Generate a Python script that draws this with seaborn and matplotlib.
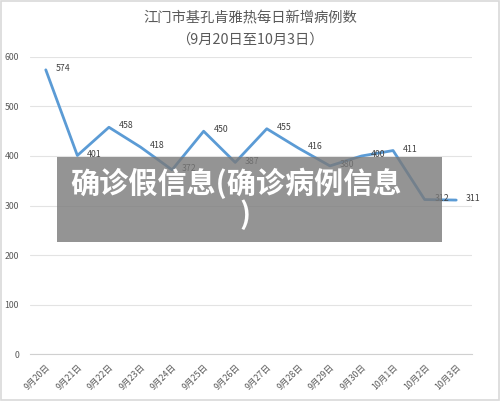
import seaborn as sns
import matplotlib.pyplot as plt
from matplotlib.patches import Rectangle

# 江门市基孔肯雅热每日新增病例数
dates = ['9月20日', '9月21日', '9月22日', '9月23日', '9月24日', '9月25日', '9月26日',
         '9月27日', '9月28日', '9月29日', '9月30日', '10月1日', '10月2日', '10月3日']
cases = [574, 401, 458, 418, 372, 450, 387, 455, 416, 380, 400, 411, 312, 311]
y_ticks = [0, 100, 200, 300, 400, 500, 600]

sns.set_style('white')
plt.rcParams['font.family'] = ['Noto Sans CJK SC', 'DejaVu Sans']

fig = plt.figure(figsize=(5, 4.01), dpi=100)
ax = fig.add_axes([0.06, 0.117, 0.884, 0.741])

x = list(range(len(dates)))
sns.lineplot(x=x, y=cases, ax=ax, color='#5b9bd5', linewidth=2, sort=False)

for xi, v in zip(x, cases):
    ax.annotate(str(v), (xi, v), xytext=(7, 1), textcoords='offset points',
                ha='left', va='center', fontsize=6.3, color='#404040')

ax.set_xlim(-0.5, len(dates) - 0.5)
ax.set_ylim(0, 600)
ax.set_yticks(y_ticks)
ax.set_yticklabels([str(t) for t in y_ticks], fontsize=6.3, color='#595959')
ax.yaxis.grid(True, color='#e3e3e3', linewidth=0.8)
ax.set_axisbelow(True)

ax.set_xticks(x)
ax.set_xticklabels(dates, rotation=45, ha='right', va='top', fontsize=6.3,
                   color='#595959', rotation_mode='anchor')
ax.set_xticks([i - 0.5 for i in range(len(dates) + 1)], minor=True)
ax.tick_params(axis='x', which='major', length=0, pad=6)
ax.tick_params(axis='x', which='minor', length=3, color='#d0d0d0', width=0.8)
ax.tick_params(axis='y', length=0, pad=8)

for s in ['top', 'right', 'left']:
    ax.spines[s].set_visible(False)
ax.spines['bottom'].set_color('#d0d0d0')
ax.spines['bottom'].set_linewidth(0.8)

fig.text(0.5, 0.955, '江门市基孔肯雅热每日新增病例数', ha='center', va='center',
         fontsize=10.3, color='#595959')
fig.text(0.5, 0.902, '（9月20日至10月3日）', ha='center', va='center',
         fontsize=10.3, color='#595959')

# figure frame
fig.patches.append(Rectangle((0.002, 0.002), 0.996, 0.996, transform=fig.transFigure,
                             fill=False, edgecolor='#d9d9d9', linewidth=1.2))

# overlay banner
fig.patches.append(Rectangle((57 / 500, 1 - 242 / 401), 385 / 500, 85 / 401,
                             transform=fig.transFigure, facecolor='#7a7a7a',
                             alpha=0.8, edgecolor='none', zorder=10))
fig.text(70 / 500, 1 - 183 / 401, '确诊假信息(确诊病例信息', ha='left', va='center',
         fontsize=21, color='white', fontweight='bold', zorder=11)
fig.text(245 / 500, 1 - 215 / 401, ')', ha='center', va='center',
         fontsize=21, color='white', fontweight='bold', zorder=11)

fig.savefig('out.png', dpi=100, facecolor='white')
